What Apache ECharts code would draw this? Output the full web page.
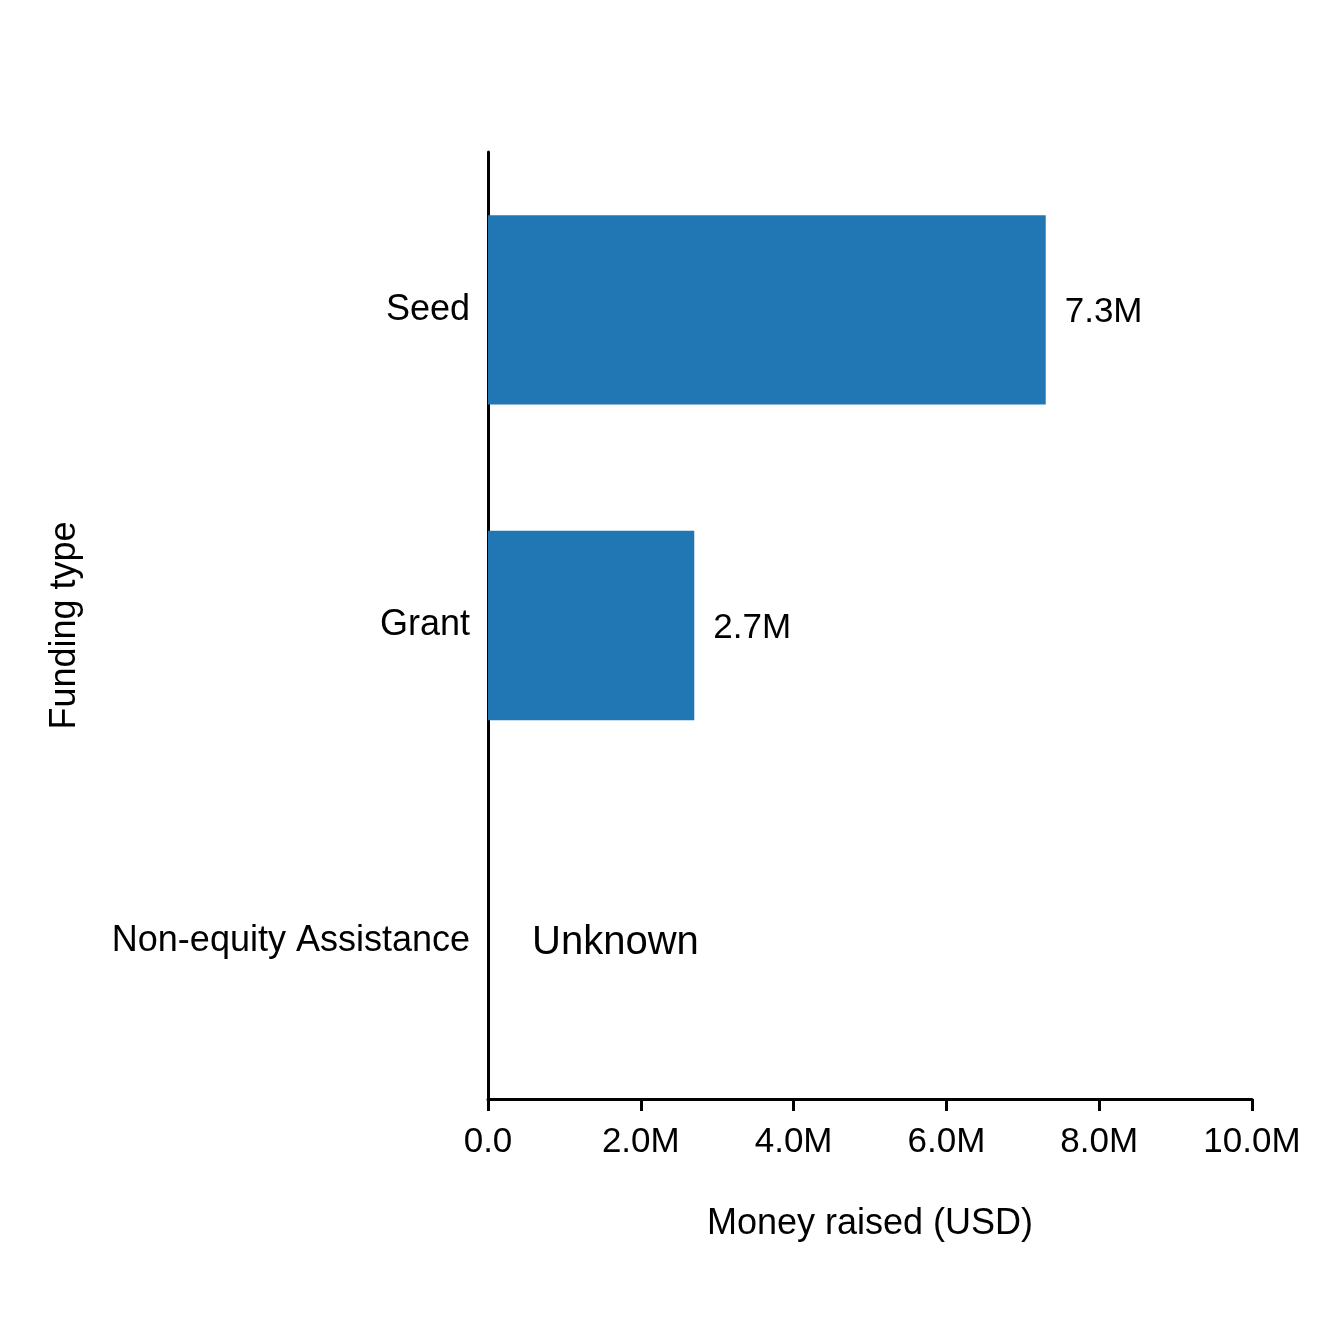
<!DOCTYPE html>
<html>
<head>
<meta charset="utf-8">
<script src="https://cdn.jsdelivr.net/npm/echarts@6/dist/echarts.min.js"></script>
<style>
html, body { margin: 0; padding: 0; background: #fff; }
#main { width: 1320px; height: 1320px; }
</style>
</head>
<body>
<div id="main"></div>
<script>
var categories = ['Seed', 'Grant', 'Non-equity Assistance'];
var values = [7.3e6, 2.7e6, null]; // USD, null = unknown
var xTicks = [0, 2e6, 4e6, 6e6, 8e6, 10e6];

var myChart = echarts.init(document.getElementById('main'));
var FONT = '"Liberation Sans", Arial, sans-serif';

function fmtM(v) {
    if (v === 0) return '0.0';
    return (v / 1e6).toFixed(1) + 'M';
}

var barData = values.map(function (v) {
    if (v === null) {
        return {
            value: 0,
            label: { formatter: 'Unknown', fontSize: 40, distance: 44, offset: [0, 2] }
        };
    }
    return v;
});

var option = {
    animation: false,
    grid: { left: 488, right: 68, top: 152, bottom: 221, containLabel: false },
    xAxis: {
        type: 'value',
        min: xTicks[0],
        max: xTicks[xTicks.length - 1],
        interval: 2e6,
        name: 'Money raised (USD)',
        nameLocation: 'middle',
        nameGap: 107,
        nameTextStyle: { fontFamily: FONT, fontSize: 36, color: '#000' },
        axisLine: { show: true, lineStyle: { color: '#000', width: 3 } },
        axisTick: { show: true, length: 12, lineStyle: { color: '#000', width: 3 } },
        axisLabel: { formatter: fmtM, fontFamily: FONT, fontSize: 35, color: '#000', margin: 26 },
        splitLine: { show: false }
    },
    yAxis: {
        type: 'category',
        data: categories,
        inverse: true,
        name: 'Funding type',
        nameLocation: 'middle',
        nameGap: 405,
        nameRotate: 90,
        nameTextStyle: { fontFamily: FONT, fontSize: 36, color: '#000' },
        axisLine: { show: true, lineStyle: { color: '#000', width: 3 } },
        axisTick: { show: false },
        axisLabel: { fontFamily: FONT, fontSize: 36, color: '#000', margin: 18 }
    },
    series: [{
        type: 'bar',
        data: barData,
        barWidth: '60%',
        itemStyle: { color: '#2077b4' },
        label: {
            show: true,
            position: 'right',
            distance: 19,
            offset: [0, 3],
            fontFamily: FONT,
            fontSize: 35,
            color: '#000',
            formatter: function (p) { return fmtM(p.value); }
        }
    }]
};

myChart.setOption(option);
window.addEventListener('resize', function () { myChart.resize(); });
</script>
</body>
</html>
